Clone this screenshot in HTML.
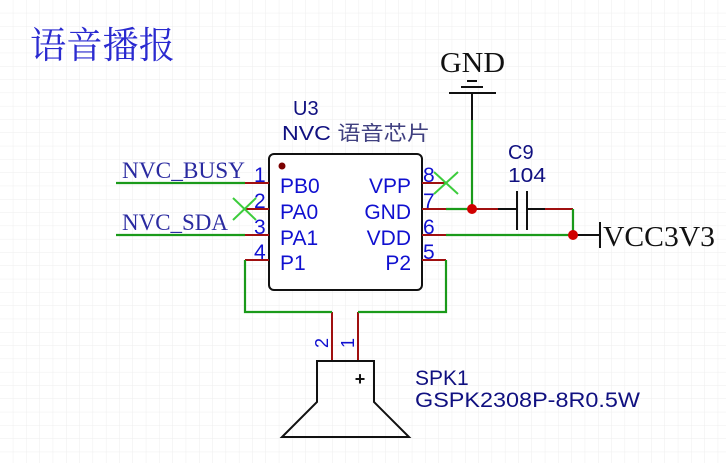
<!DOCTYPE html>
<html><head><meta charset="utf-8"><style>
html,body{margin:0;padding:0;background:#fff;}
svg{display:block;}
.s{font-family:"Liberation Sans","Noto Sans CJK SC",sans-serif;}
.r{font-family:"Liberation Serif","Noto Serif CJK SC",serif;}
</style></head><body>
<svg width="726" height="463" viewBox="0 0 726 463" xmlns="http://www.w3.org/2000/svg">
<defs><pattern id="g" width="13.3" height="13.3" patternUnits="userSpaceOnUse"><path d="M13.3 0V13.3M0 13.3H13.3" stroke="#eeeeee" stroke-width="1" fill="none"/></pattern></defs>
<rect width="726" height="463" fill="url(#g)"/>
<text x="30" y="58" font-size="37" fill="#2a2ad0" font-family="Noto Serif CJK SC, serif" textLength="145" lengthAdjust="spacingAndGlyphs">语音播报</text>
<text x="293" y="115" class="s" font-size="20" fill="#101080">U3</text>
<text x="282" y="140" class="s" font-size="20" fill="#101080" textLength="148" lengthAdjust="spacingAndGlyphs">NVC <tspan fill="#404080">语音芯片</tspan></text>
<rect x="269" y="154" width="153" height="136" rx="5" fill="#fff" stroke="#111" stroke-width="2"/>
<circle cx="282" cy="166" r="3.5" fill="#7a0000"/>
<g stroke="#a01010" stroke-width="2">
<line x1="245" y1="183" x2="269" y2="183"/><line x1="245" y1="209" x2="269" y2="209"/>
<line x1="245" y1="235" x2="269" y2="235"/><line x1="245" y1="260" x2="269" y2="260"/>
<line x1="422" y1="183" x2="446" y2="183"/><line x1="422" y1="209" x2="446" y2="209"/>
<line x1="422" y1="235" x2="446" y2="235"/><line x1="422" y1="260" x2="446" y2="260"/>
<line x1="332" y1="312" x2="332" y2="361"/><line x1="358" y1="312" x2="358" y2="361"/>
<line x1="472" y1="209" x2="498" y2="209"/><line x1="545" y1="209" x2="573" y2="209"/>
</g>
<g stroke="#1a9a1a" stroke-width="2.2" fill="none">
<line x1="116" y1="183" x2="245" y2="183"/><line x1="116" y1="235" x2="245" y2="235"/>
<polyline points="245,260 245,312 332,312"/><polyline points="358,312 446,312 446,260"/>
<line x1="446" y1="209" x2="472" y2="209"/><line x1="472" y1="120" x2="472" y2="209"/>
<line x1="446" y1="235" x2="573" y2="235"/><line x1="573" y1="209" x2="573" y2="235"/>
</g>
<g stroke="#3ccc3c" stroke-width="2">
<line x1="434" y1="172" x2="458" y2="194"/><line x1="434" y1="194" x2="458" y2="172"/>
<line x1="233" y1="198" x2="256" y2="220"/><line x1="233" y1="220" x2="256" y2="198"/>
</g>
<g class="s" font-size="21" fill="#1010d0">
<text x="254" y="182">1</text><text x="254" y="208">2</text><text x="254" y="234">3</text><text x="254" y="259">4</text>
<text x="423" y="182">8</text><text x="423" y="208">7</text><text x="423" y="234">6</text><text x="423" y="259">5</text>
<text x="280" y="193">PB0</text><text x="280" y="219">PA0</text><text x="280" y="245">PA1</text><text x="280" y="270">P1</text>
<text x="411" y="193" text-anchor="end">VPP</text><text x="411" y="219" text-anchor="end">GND</text><text x="411" y="245" text-anchor="end">VDD</text><text x="411" y="270" text-anchor="end">P2</text>
</g>
<g class="r" font-size="23" fill="#2a2aa0">
<text x="122" y="178" textLength="123" lengthAdjust="spacingAndGlyphs">NVC_BUSY</text><text x="122" y="230" textLength="106" lengthAdjust="spacingAndGlyphs">NVC_SDA</text>
</g>
<g stroke="#111" stroke-width="2">
<line x1="472" y1="93" x2="472" y2="120"/>
<line x1="449" y1="93" x2="496" y2="93"/><line x1="461" y1="87" x2="483" y2="87"/><line x1="467" y1="81" x2="477" y2="81"/>
<line x1="517" y1="191" x2="517" y2="230"/><line x1="527" y1="191" x2="527" y2="230"/>
<line x1="498" y1="209" x2="517" y2="209"/><line x1="527" y1="209" x2="545" y2="209"/>
<line x1="573" y1="235" x2="600" y2="235"/><line x1="600" y1="222" x2="600" y2="248"/>
</g>
<text x="440" y="72" class="r" font-size="28" fill="#111" textLength="65" lengthAdjust="spacingAndGlyphs">GND</text>
<text x="603" y="246" class="r" font-size="28" fill="#111" textLength="112" lengthAdjust="spacingAndGlyphs">VCC3V3</text>
<text x="508" y="159" class="s" font-size="20" fill="#101080">C9</text>
<text x="508" y="182" class="s" font-size="20" fill="#101080" textLength="38" lengthAdjust="spacingAndGlyphs">104</text>
<circle cx="472" cy="209" r="5" fill="#d00000"/><circle cx="573" cy="235" r="5" fill="#d00000"/>
<path d="M317 402 V361 H374 V402 L409 437 H282 Z" fill="none" stroke="#111" stroke-width="2"/>
<text x="360" y="385" class="s" font-size="18" font-weight="bold" fill="#111" text-anchor="middle">+</text>
<text class="s" font-size="18" fill="#1010d0" transform="translate(328,348) rotate(-90)">2</text>
<text class="s" font-size="18" fill="#1010d0" transform="translate(354,348) rotate(-90)">1</text>
<text x="415" y="385" class="s" font-size="21" fill="#101080">SPK1</text>
<text x="415" y="407" class="s" font-size="21" fill="#101080" textLength="225" lengthAdjust="spacingAndGlyphs">GSPK2308P-8R0.5W</text>
</svg>
</body></html>
